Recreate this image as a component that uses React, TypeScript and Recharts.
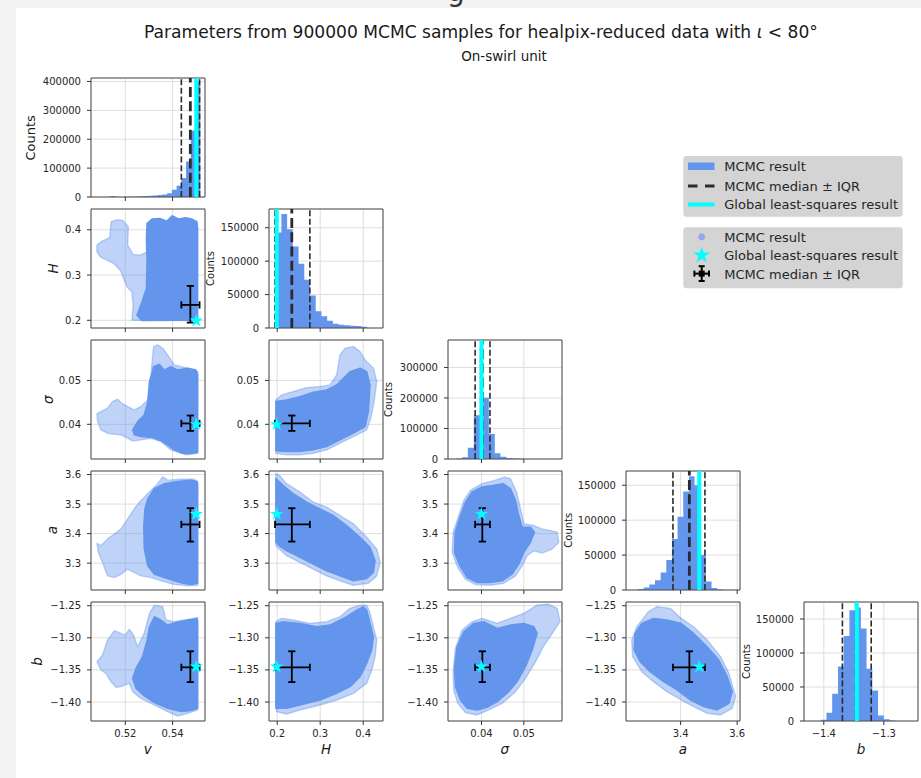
import React from 'react';
import {
  ScatterChart, ComposedChart, Scatter, Area, XAxis, YAxis, CartesianGrid,
  ReferenceLine, ReferenceArea, Symbols,
} from 'recharts';

const FONT = "'DejaVu Sans', sans-serif";
const BLUE = '#6495ED';
const CYAN = '#00FFFF';
const DASH = '#2b2b2b';
const GRID = '#dedede';
const FRAME = '#4d4d4d';
const TEXT = '#262626';

// ---------- summary values: [lower, median, upper] and global least-squares ----------
const vIqr = [0.5437, 0.5475, 0.5514]; const vGls = 0.5500;
const hIqr = [0.195, 0.234, 0.276]; const hGls = 0.199;
const sIqr = [0.0385, 0.0402, 0.0420]; const sGls = 0.0400;
const aIqr = [3.373, 3.431, 3.486]; const aGls = 3.466;
const bIqr = [-1.369, -1.346, -1.321]; const bGls = -1.345;

// ---------- axis ranges and ticks ----------
const vRange = [0.5055, 0.5537]; const vTicks = [0.52, 0.54];
const hRangeX = [0.181, 0.446]; const hRangeY = [0.183, 0.446]; const hTicks = [0.2, 0.3, 0.4];
const sRangeX = [0.0321, 0.0590]; const sRangeY = [0.0321, 0.0592]; const sTicks = [0.04, 0.05];
const aRangeX = [3.207, 3.610]; const aRangeY = [3.209, 3.612];
const aTicksX = [3.4, 3.6]; const aTicksY = [3.3, 3.4, 3.5, 3.6];
const bRangeX = [-1.433, -1.243]; const bRangeY = [-1.4296, -1.2442];
const bTicksX = [-1.4, -1.3]; const bTicksY = [-1.40, -1.35, -1.30, -1.25];

// ---------- histograms (bin edges, counts) ----------
const vHistEdges = [0.5137, 0.5157, 0.5177, 0.5197, 0.5217, 0.5237, 0.5257, 0.5277, 0.5297, 0.5317, 0.5337, 0.5357, 0.5377, 0.5397, 0.5417, 0.5437, 0.5457, 0.5477, 0.5497, 0.5517];
const vHistCounts = [3500, 600, 400, 500, 800, 1500, 2500, 3200, 4000, 5000, 6500, 8500, 13000, 25000, 39000, 66000, 123000, 230000, 400000];
const hHistEdges = [0.1965, 0.2098, 0.2231, 0.2364, 0.2497, 0.2630, 0.2763, 0.2896, 0.3029, 0.3162, 0.3295, 0.3428, 0.3561, 0.3694, 0.3827, 0.3960, 0.4093];
const hHistCounts = [142800, 170600, 147800, 121900, 96000, 72100, 48800, 24900, 17400, 10900, 6500, 5000, 4000, 3500, 3000, 2000];
const sHistEdges = [0.03403, 0.03545, 0.03678, 0.03819, 0.03961, 0.04031, 0.04173, 0.04314, 0.04447, 0.04589, 0.0473, 0.04871, 0.05013];
const sHistCounts = [2000, 5400, 37000, 143000, 371000, 201000, 82000, 19000, 7600, 3300, 2000, 800];
const aHistEdges = [3.2494, 3.2694, 3.2894, 3.3094, 3.3294, 3.3494, 3.3694, 3.3894, 3.4094, 3.4294, 3.4494, 3.4694, 3.4894, 3.5094, 3.5294, 3.5494];
const aHistCounts = [1500, 3500, 8000, 14000, 25000, 43000, 73000, 105000, 141000, 163000, 150000, 50000, 12000, 3000, 800];
const bHistEdges = [-1.4051, -1.3955, -1.3860, -1.3764, -1.3669, -1.3573, -1.3478, -1.3382, -1.3287, -1.3191, -1.3096, -1.3000, -1.2904, -1.2809];
const bHistCounts = [2000, 12000, 40000, 80000, 125000, 163000, 167000, 136000, 77000, 45000, 8000, 2500, 800];

const vCountTicks = [0, 100000, 200000, 300000, 400000];
const hCountTicks = [0, 50000, 100000, 150000];
const sCountTicks = [0, 100000, 200000, 300000];
const aCountTicks = [0, 50000, 100000, 150000];
const bCountTicks = [0, 50000, 100000, 150000];

// ---------- sample clouds: outlines of dense core and sparse halo, [x, y] ----------
const hvSparse = [[0.5080,0.3662],[0.5102,0.3751],[0.5134,0.3825],[0.5140,0.4179],[0.5165,0.4224],[0.5190,0.4209],[0.5213,0.4068],[0.5210,0.3662],[0.5233,0.3455],[0.5263,0.3441],[0.5292,0.3515],[0.5298,0.2001],[0.5228,0.2001],[0.5233,0.2333],[0.5228,0.2628],[0.5207,0.2739],[0.5193,0.2924],[0.5179,0.3108],[0.5151,0.3256],[0.5122,0.3330],[0.5094,0.3404],[0.5080,0.3515]];
const hvDense = [[0.5292,0.4142],[0.5313,0.4238],[0.5345,0.4253],[0.5376,0.4194],[0.5398,0.4312],[0.5426,0.4238],[0.5454,0.4268],[0.5482,0.4238],[0.5503,0.4179],[0.5506,0.4032],[0.5506,0.2001],[0.5270,0.1994],[0.5249,0.2112],[0.5270,0.2407],[0.5289,0.2702],[0.5292,0.3293],[0.5289,0.3810]];

const svSparse = [[0.5080,0.04237],[0.5097,0.04290],[0.5125,0.04366],[0.5146,0.04518],[0.5168,0.04571],[0.5185,0.04480],[0.5210,0.04404],[0.5238,0.04328],[0.5266,0.04404],[0.5295,0.04556],[0.5309,0.04973],[0.5311,0.05277],[0.5316,0.05580],[0.5320,0.05770],[0.5337,0.05808],[0.5358,0.05732],[0.5379,0.05580],[0.5407,0.05353],[0.5464,0.05277],[0.5506,0.05201],[0.5506,0.03341],[0.5457,0.03303],[0.5393,0.03417],[0.5351,0.03607],[0.5309,0.03683],[0.5266,0.03645],[0.5231,0.03622],[0.5210,0.03683],[0.5182,0.03759],[0.5154,0.03774],[0.5125,0.03797],[0.5097,0.03873],[0.5083,0.04062]];
const svDense = [[0.5295,0.04518],[0.5302,0.04973],[0.5320,0.05315],[0.5344,0.05368],[0.5365,0.05239],[0.5393,0.05315],[0.5421,0.05239],[0.5464,0.05277],[0.5499,0.05239],[0.5506,0.05125],[0.5506,0.03364],[0.5478,0.03334],[0.5443,0.03341],[0.5407,0.03417],[0.5379,0.03531],[0.5351,0.03622],[0.5316,0.03698],[0.5266,0.03721],[0.5238,0.03759],[0.5231,0.03873],[0.5252,0.04062],[0.5280,0.04214]];

const shSparse = [[0.1969,0.04556],[0.2101,0.04669],[0.2373,0.04745],[0.2684,0.04836],[0.2995,0.04859],[0.3228,0.04897],[0.3383,0.05125],[0.3461,0.0558],[0.3577,0.05732],[0.3772,0.0577],[0.3927,0.05656],[0.4044,0.05466],[0.4238,0.05277],[0.4315,0.04973],[0.4253,0.04518],[0.4176,0.04138],[0.4082,0.03873],[0.3772,0.03721],[0.3461,0.03569],[0.3150,0.03417],[0.2839,0.03341],[0.2528,0.03303],[0.2218,0.03303],[0.1969,0.03341]];
const shDense = [[0.1969,0.04518],[0.2218,0.04556],[0.2528,0.04631],[0.2839,0.0473],[0.3150,0.04783],[0.3383,0.04897],[0.3538,0.05049],[0.3694,0.05201],[0.3927,0.05277],[0.4082,0.05201],[0.4160,0.04897],[0.4121,0.0429],[0.4044,0.03948],[0.3772,0.03797],[0.3461,0.03645],[0.3150,0.03493],[0.2839,0.03417],[0.2528,0.03379],[0.2218,0.03379],[0.1969,0.03394]];

const avSparse = [[0.5080,3.367],[0.5097,3.359],[0.5125,3.382],[0.5154,3.399],[0.5182,3.416],[0.5210,3.450],[0.5238,3.484],[0.5266,3.512],[0.5302,3.541],[0.5337,3.569],[0.5358,3.592],[0.5379,3.581],[0.5436,3.584],[0.5492,3.584],[0.5506,3.575],[0.5506,3.225],[0.5464,3.223],[0.5407,3.228],[0.5351,3.240],[0.5309,3.251],[0.5266,3.257],[0.5238,3.268],[0.5210,3.280],[0.5182,3.262],[0.5154,3.251],[0.5125,3.257],[0.5104,3.302],[0.5086,3.336]];
const avDense = [[0.5295,3.518],[0.5323,3.552],[0.5365,3.569],[0.5421,3.577],[0.5478,3.581],[0.5503,3.577],[0.5506,3.564],[0.5506,3.232],[0.5478,3.227],[0.5443,3.232],[0.5407,3.240],[0.5365,3.251],[0.5323,3.262],[0.5295,3.291],[0.5280,3.348],[0.5278,3.427],[0.5283,3.484]];

const ahSparse = [[0.1969,3.6034],[0.2047,3.5977],[0.2218,3.5693],[0.2528,3.5409],[0.2839,3.5068],[0.3150,3.4898],[0.3461,3.4614],[0.3772,3.4330],[0.4082,3.3875],[0.4315,3.3477],[0.4393,3.3023],[0.4315,3.2568],[0.4121,3.2318],[0.3772,3.2250],[0.3461,3.2398],[0.3150,3.2568],[0.2839,3.2795],[0.2528,3.3023],[0.2218,3.3250],[0.1969,3.3591]];
const ahDense = [[0.1969,3.5864],[0.2140,3.5636],[0.2373,3.5352],[0.2684,3.5068],[0.2995,3.4841],[0.3305,3.4614],[0.3616,3.4273],[0.3927,3.3875],[0.4160,3.3534],[0.4277,3.3080],[0.4238,3.2682],[0.4082,3.2477],[0.3772,3.2398],[0.3461,3.2568],[0.3150,3.2739],[0.2839,3.2966],[0.2528,3.3193],[0.2218,3.3420],[0.2062,3.3568],[0.1969,3.3705]];

const asSparse = [[0.03465,3.4614],[0.03583,3.5125],[0.0374,3.5466],[0.04016,3.5693],[0.0433,3.5807],[0.04543,3.5920],[0.04685,3.5864],[0.04826,3.5409],[0.04921,3.4841],[0.05,3.4330],[0.05236,3.4273],[0.05432,3.4159],[0.05629,3.4102],[0.05786,3.4045],[0.05826,3.3705],[0.05668,3.3477],[0.05432,3.3341],[0.05236,3.3420],[0.05078,3.3250],[0.0496,3.2909],[0.04803,3.2568],[0.04527,3.2318],[0.04212,3.2250],[0.03858,3.2273],[0.03622,3.2455],[0.03441,3.2852],[0.03307,3.3364],[0.03331,3.4045]];
const asDense = [[0.03504,3.4614],[0.03622,3.5068],[0.0378,3.5409],[0.04016,3.5580],[0.04291,3.5636],[0.04512,3.5693],[0.04685,3.5523],[0.04803,3.5125],[0.04881,3.4614],[0.0496,3.4216],[0.05157,3.4216],[0.05251,3.4045],[0.05157,3.3705],[0.05,3.3364],[0.04881,3.2966],[0.04724,3.2625],[0.04488,3.2398],[0.04212,3.2341],[0.03898,3.2341],[0.03662,3.2511],[0.03488,3.2909],[0.03363,3.3364],[0.03378,3.4045]];

const bvSparse = [[0.5080,-1.3372],[0.5104,-1.3268],[0.5125,-1.3035],[0.5154,-1.2889],[0.5182,-1.2931],[0.5199,-1.2957],[0.5217,-1.2868],[0.5235,-1.2957],[0.5252,-1.3138],[0.5280,-1.2931],[0.5302,-1.2619],[0.5323,-1.2490],[0.5358,-1.2516],[0.5372,-1.2723],[0.5407,-1.2749],[0.5464,-1.2713],[0.5506,-1.2682],[0.5506,-1.4124],[0.5464,-1.4176],[0.5421,-1.4218],[0.5379,-1.4150],[0.5323,-1.4047],[0.5266,-1.3943],[0.5231,-1.3839],[0.5217,-1.3709],[0.5182,-1.3761],[0.5161,-1.3772],[0.5139,-1.3683],[0.5118,-1.3554],[0.5097,-1.3502]];
const bvDense = [[0.5302,-1.2827],[0.5323,-1.2671],[0.5351,-1.2723],[0.5379,-1.2801],[0.5421,-1.2754],[0.5464,-1.2723],[0.5503,-1.2702],[0.5506,-1.2749],[0.5506,-1.4099],[0.5478,-1.4135],[0.5436,-1.4150],[0.5379,-1.4099],[0.5323,-1.4010],[0.5280,-1.3906],[0.5245,-1.3787],[0.5231,-1.3631],[0.5245,-1.3476],[0.5273,-1.3294],[0.5292,-1.3035]];

const bhSparse = [[0.1969,-1.2749],[0.2101,-1.2697],[0.2373,-1.2723],[0.2761,-1.2775],[0.3150,-1.2749],[0.3461,-1.2671],[0.3694,-1.2541],[0.3927,-1.2490],[0.4082,-1.2490],[0.4160,-1.2619],[0.4315,-1.3035],[0.4277,-1.3294],[0.4199,-1.3502],[0.4082,-1.3709],[0.3772,-1.3865],[0.3383,-1.3969],[0.2995,-1.4047],[0.2528,-1.4124],[0.2218,-1.4187],[0.1984,-1.4150]];
const bhDense = [[0.1969,-1.2775],[0.2140,-1.2749],[0.2528,-1.2775],[0.2917,-1.2827],[0.3228,-1.2801],[0.3616,-1.2671],[0.3849,-1.2567],[0.4005,-1.2516],[0.4082,-1.2567],[0.4160,-1.2775],[0.4238,-1.2983],[0.4199,-1.3190],[0.4082,-1.3398],[0.3927,-1.3605],[0.3694,-1.3761],[0.3383,-1.3865],[0.2995,-1.3969],[0.2528,-1.4047],[0.2218,-1.4099],[0.1969,-1.4099]];

const bsSparse = [[0.0333,-1.3554],[0.03385,-1.3164],[0.03543,-1.2879],[0.03779,-1.2749],[0.04016,-1.2697],[0.0437,-1.2775],[0.04686,-1.2697],[0.05001,-1.2619],[0.05316,-1.2490],[0.05568,-1.2474],[0.05789,-1.2541],[0.05852,-1.2749],[0.05671,-1.2931],[0.05458,-1.3138],[0.05276,-1.3372],[0.0504,-1.3631],[0.04804,-1.3839],[0.04489,-1.4021],[0.04173,-1.4124],[0.03898,-1.4202],[0.03622,-1.4166],[0.0344,-1.4021],[0.03346,-1.3813]];
const bsDense = [[0.03362,-1.3450],[0.03425,-1.3138],[0.03582,-1.2905],[0.03819,-1.2775],[0.04055,-1.2749],[0.0437,-1.2853],[0.04686,-1.2801],[0.05001,-1.2775],[0.05237,-1.2827],[0.05316,-1.2931],[0.05198,-1.3190],[0.0504,-1.3450],[0.04843,-1.3683],[0.04607,-1.3865],[0.0437,-1.3995],[0.04134,-1.4083],[0.03898,-1.4124],[0.03661,-1.4099],[0.03504,-1.3969],[0.03385,-1.3761]];

const baSparse = [[3.2272,-1.3035],[3.2449,-1.2827],[3.2864,-1.2593],[3.316,-1.2516],[3.3635,-1.2541],[3.402,-1.2697],[3.4464,-1.2827],[3.4938,-1.3035],[3.5413,-1.3294],[3.5709,-1.3554],[3.5946,-1.3917],[3.5827,-1.4099],[3.5413,-1.4202],[3.4938,-1.4176],[3.4464,-1.4073],[3.402,-1.3969],[3.3516,-1.3839],[3.3042,-1.3683],[3.2627,-1.3528],[3.2307,-1.3294]];
const baDense = [[3.239,-1.2931],[3.2627,-1.2775],[3.3042,-1.2697],[3.3516,-1.2723],[3.402,-1.2775],[3.4464,-1.2931],[3.4938,-1.3138],[3.5353,-1.3346],[3.565,-1.3605],[3.5827,-1.3839],[3.5709,-1.4021],[3.5294,-1.4124],[3.482,-1.4073],[3.4346,-1.3969],[3.3872,-1.3813],[3.3398,-1.3683],[3.2923,-1.3528],[3.2568,-1.3372],[3.2354,-1.3190]];

// ---------- layout ----------
const COL_X = [90.7, 269, 447.7, 626, 804];
const ROW_Y = [78.3, 209, 340.1, 470.7, 602];
const BOX_W = 114;
const BOX_H = 119;
const L = 58, T = 6, R = 8, B = 24;

const fmt = (d: number) => (t: number) => (t < 0 ? '\u2212' : '') + Math.abs(t).toFixed(d);
const blank = () => '';

type AxisDef = { domain: number[]; ticks: number[]; f: (t: number) => string };
const xDefs: AxisDef[] = [
  { domain: vRange, ticks: vTicks, f: fmt(2) },
  { domain: hRangeX, ticks: hTicks, f: fmt(1) },
  { domain: sRangeX, ticks: sTicks, f: fmt(2) },
  { domain: aRangeX, ticks: aTicksX, f: fmt(1) },
  { domain: bRangeX, ticks: bTicksX, f: fmt(1) },
];
const yDefs: (AxisDef | null)[] = [
  null,
  { domain: hRangeY, ticks: hTicks, f: fmt(1) },
  { domain: sRangeY, ticks: sTicks, f: fmt(2) },
  { domain: aRangeY, ticks: aTicksY, f: fmt(1) },
  { domain: bRangeY, ticks: bTicksY, f: fmt(2) },
];
const iqrs = [vIqr, hIqr, sIqr, aIqr, bIqr];
const glsVals = [vGls, hGls, sGls, aGls, bGls];

const scatterPanels = [
  { r: 1, c: 0, dense: hvDense, sparse: hvSparse },
  { r: 2, c: 0, dense: svDense, sparse: svSparse },
  { r: 2, c: 1, dense: shDense, sparse: shSparse },
  { r: 3, c: 0, dense: avDense, sparse: avSparse },
  { r: 3, c: 1, dense: ahDense, sparse: ahSparse },
  { r: 3, c: 2, dense: asDense, sparse: asSparse },
  { r: 4, c: 0, dense: bvDense, sparse: bvSparse },
  { r: 4, c: 1, dense: bhDense, sparse: bhSparse },
  { r: 4, c: 2, dense: bsDense, sparse: bsSparse },
  { r: 4, c: 3, dense: baDense, sparse: baSparse },
];
const histPanels = [
  { i: 0, edges: vHistEdges, counts: vHistCounts, yMax: 412000, yTicks: vCountTicks },
  { i: 1, edges: hHistEdges, counts: hHistCounts, yMax: 178000, yTicks: hCountTicks },
  { i: 2, edges: sHistEdges, counts: sHistCounts, yMax: 390000, yTicks: sCountTicks },
  { i: 3, edges: aHistEdges, counts: aHistCounts, yMax: 170400, yTicks: aCountTicks },
  { i: 4, edges: bHistEdges, counts: bHistCounts, yMax: 175000, yTicks: bCountTicks },
];

const tickStyle = { fontSize: 10, fill: TEXT, fontFamily: FONT };

function makeX(def: AxisDef, show: boolean) {
  return (
    <XAxis type="number" dataKey="x" domain={def.domain} ticks={def.ticks} allowDataOverflow interval={0}
      height={B} tickSize={4} tickMargin={5} axisLine={false} tickLine={{ stroke: '#333' }}
      tick={tickStyle} tickFormatter={show ? def.f : blank} />
  );
}
function makeY(domain: number[], ticks: number[], f: (t: number) => string) {
  return (
    <YAxis type="number" dataKey="y" domain={domain} ticks={ticks} allowDataOverflow interval={0}
      width={L} tickSize={4} tickMargin={6} axisLine={false} tickLine={{ stroke: '#333' }}
      tick={tickStyle} tickFormatter={f} />
  );
}

const toPts = (arr: number[][]) => arr.map(([x, y]) => ({ x, y }));
const noShape = () => <g />;
const polygonLine = (opacity: number) => (p: any) => {
  const pts = (p && p.points) || [];
  if (!pts.length) return <g />;
  const d = 'M' + pts.map((q: any) => `${q.x},${q.y}`).join('L') + 'Z';
  return <path d={d} fill={BLUE} fillOpacity={opacity} stroke={BLUE} strokeOpacity={opacity} strokeWidth={1.4} strokeLinejoin="round" />;
};
const barLine = (p: any) => {
  const pts = (p && p.points) || [];
  if (pts.length < 2) return <g />;
  return <line x1={pts[0].x} y1={pts[0].y} x2={pts[1].x} y2={pts[1].y} stroke="#000" strokeWidth={1.8} />;
};
// error-bar caps: 'v' = vertical cap (ends of horizontal bar), 'h' = horizontal cap
const capShape = (p: any) => {
  const o = p && p.payload ? p.payload.o : 'v';
  const c = 3.6;
  return o === 'v'
    ? <line x1={p.cx} x2={p.cx} y1={p.cy - c} y2={p.cy + c} stroke="#000" strokeWidth={1.8} />
    : <line x1={p.cx - c} x2={p.cx + c} y1={p.cy} y2={p.cy} stroke="#000" strokeWidth={1.8} />;
};
const starShape = (size: number) => (p: any) => <Symbols cx={p.cx} cy={p.cy} type="star" size={size} fill={CYAN} />;

function ScatterPanel({ r, c, dense, sparse }: any) {
  const xd = xDefs[c];
  const yd = yDefs[r] as AxisDef;
  const xi = iqrs[c], yi = iqrs[r];
  const hBar = [{ x: xi[0], y: yi[1], o: 'v' }, { x: xi[2], y: yi[1], o: 'v' }];
  const vBar = [{ x: xi[1], y: yi[0], o: 'h' }, { x: xi[1], y: yi[2], o: 'h' }];
  const star = [{ x: glsVals[c], y: glsVals[r] }];
  return (
    <div style={{ position: 'absolute', left: COL_X[c] - L, top: ROW_Y[r] - T }}>
      <ScatterChart width={BOX_W + L + R} height={BOX_H + T + B} margin={{ top: T, right: R, bottom: 0, left: 0 }}>
        <CartesianGrid stroke={GRID} />
        {makeX(xd, r === 4)}
        {makeY(yd.domain, yd.ticks, yd.f)}
        <Scatter data={toPts(sparse)} shape={noShape} line={polygonLine(0.42)} lineType="joint" isAnimationActive={false} />
        <Scatter data={toPts(dense)} shape={noShape} line={polygonLine(1)} lineType="joint" isAnimationActive={false} />
        <Scatter data={hBar} shape={capShape} line={barLine} lineType="joint" isAnimationActive={false} />
        <Scatter data={vBar} shape={capShape} line={barLine} lineType="joint" isAnimationActive={false} />
        <Scatter data={star} shape={starShape(56)} isAnimationActive={false} />
        <ReferenceArea x1={xd.domain[0]} x2={xd.domain[1]} y1={yd.domain[0]} y2={yd.domain[1]}
          fill="none" fillOpacity={0} stroke={FRAME} strokeWidth={1} ifOverflow="visible" />
      </ScatterChart>
    </div>
  );
}

function HistPanel({ i, edges, counts, yMax, yTicks }: any) {
  const xd = xDefs[i];
  const data = edges.map((e: number, k: number) => ({ x: e, y: k < counts.length ? counts[k] : 0 }));
  const q = iqrs[i];
  return (
    <div style={{ position: 'absolute', left: COL_X[i] - L, top: ROW_Y[i] - T }}>
      <ComposedChart width={BOX_W + L + R} height={BOX_H + T + B} data={data} margin={{ top: T, right: R, bottom: 0, left: 0 }}>
        <CartesianGrid stroke={GRID} />
        {makeX(xd, i === 4)}
        <YAxis type="number" domain={[0, yMax]} ticks={yTicks} allowDataOverflow interval={0}
          width={L} tickSize={4} tickMargin={6} axisLine={false} tickLine={{ stroke: '#333' }}
          tick={tickStyle} tickFormatter={fmt(0)} />
        <Area type="stepAfter" dataKey="y" stroke="none" fill={BLUE} fillOpacity={1} isAnimationActive={false} dot={false} activeDot={false} />
        <ReferenceLine x={q[0]} stroke={DASH} strokeWidth={1.6} strokeDasharray="6 2.6" />
        <ReferenceLine x={q[2]} stroke={DASH} strokeWidth={1.6} strokeDasharray="6 2.6" />
        <ReferenceLine x={q[1]} stroke={DASH} strokeWidth={2.8} strokeDasharray="10 4.3" />
        <ReferenceLine x={glsVals[i]} stroke={CYAN} strokeWidth={4} />
        <ReferenceArea x1={xd.domain[0]} x2={xd.domain[1]} y1={0} y2={yMax}
          fill="none" fillOpacity={0} stroke={FRAME} strokeWidth={1} ifOverflow="visible" />
      </ComposedChart>
    </div>
  );
}

const xLabels = ['v', 'H', 'σ', 'a', 'b'];
const yLabels = [
  { name: 'H', x: 58, r: 1 },
  { name: 'σ', x: 52.5, r: 2 },
  { name: 'a', x: 57.3, r: 3 },
  { name: 'b', x: 42.3, r: 4 },
];
const countLabels = [
  { x: 35, r: 0, size: 13 },
  { x: 214, r: 1, size: 10 },
  { x: 392, r: 2, size: 10 },
  { x: 571.7, r: 3, size: 10 },
  { x: 750, r: 4, size: 10 },
];

export default function App() {
  return (
    <div style={{ position: 'absolute', left: 0, top: 0, width: 921, height: 778, overflow: 'hidden', background: '#f3f3f3', fontFamily: FONT }}>
      <svg width={921} height={10} style={{ position: 'absolute', left: 0, top: 0 }}>
        <text x={447} y={1} fontSize={28} fill="#333" fontFamily={FONT}>g</text>
      </svg>
      <div style={{ position: 'absolute', left: 16, top: 8, width: 905, height: 770, background: '#ffffff' }} />
      {histPanels.map((h) => <HistPanel key={'h' + h.i} {...h} />)}
      {scatterPanels.map((s) => <ScatterPanel key={'s' + s.r + s.c} {...s} />)}
      <svg width={921} height={778} style={{ position: 'absolute', left: 0, top: 0, pointerEvents: 'none' }} fontFamily={FONT}>
        <text x={481} y={37.5} fontSize={17.1} textAnchor="middle" fill="#1a1a1a">
          Parameters from 900000 MCMC samples for healpix-reduced data with <tspan fontStyle="italic">ι</tspan> &lt; 80°
        </text>
        <text x={504} y={60.5} fontSize={13.5} textAnchor="middle" fill="#1a1a1a">On-swirl unit</text>
        {xLabels.map((n, i) => (
          <text key={'xl' + i} x={COL_X[i] + BOX_W / 2} y={754} fontSize={13.5} fontStyle="italic" textAnchor="middle" fill="#1a1a1a">{n}</text>
        ))}
        {yLabels.map((l) => (
          <text key={'yl' + l.r} transform={`translate(${l.x},${ROW_Y[l.r] + BOX_H / 2}) rotate(-90)`} fontSize={13.5} fontStyle="italic" textAnchor="middle" fill="#1a1a1a">{l.name}</text>
        ))}
        {countLabels.map((l) => (
          <text key={'cl' + l.r} transform={`translate(${l.x},${ROW_Y[l.r] + BOX_H / 2}) rotate(-90)`} fontSize={l.size} textAnchor="middle" fill="#1a1a1a">Counts</text>
        ))}
        {/* legend 1 */}
        <rect x={683.3} y={156} width={219.4} height={60.7} rx={3} fill="#d4d4d4" />
        <rect x={688} y={162.5} width={26.5} height={7.5} fill={BLUE} />
        <text x={724.3} y={170.8} fontSize={13} fill={TEXT}>MCMC result</text>
        <line x1={688} x2={714.5} y1={186} y2={186} stroke={DASH} strokeWidth={2.8} strokeDasharray="9.5 7.5" />
        <text x={724.3} y={190.6} fontSize={13} fill={TEXT}>MCMC median ± IQR</text>
        <line x1={688} x2={714.5} y1={204.5} y2={204.5} stroke={CYAN} strokeWidth={4} />
        <text x={724.3} y={209.2} fontSize={13} fill={TEXT}>Global least-squares result</text>
        {/* legend 2 */}
        <rect x={683.3} y={227.3} width={219.4} height={61} rx={3} fill="#d4d4d4" />
        <circle cx={701.7} cy={236.8} r={3.4} fill="#8fa9f0" />
        <text x={724.3} y={241.6} fontSize={13} fill={TEXT}>MCMC result</text>
        <Symbols cx={701.7} cy={255.3} type="star" size={88} fill={CYAN} />
        <text x={724.3} y={260.2} fontSize={13} fill={TEXT}>Global least-squares result</text>
        <g stroke="#000" strokeWidth={2}>
          <line x1={694.4} x2={709} y1={273.6} y2={273.6} />
          <line x1={701.7} x2={701.7} y1={266.2} y2={281} />
          <line x1={694.4} x2={694.4} y1={270.6} y2={276.6} />
          <line x1={709} x2={709} y1={270.6} y2={276.6} />
          <line x1={698.7} x2={704.7} y1={266.2} y2={266.2} />
          <line x1={698.7} x2={704.7} y1={281} y2={281} />
        </g>
        <rect x={698.7} y={270.6} width={6} height={6} fill="#000" />
        <text x={724.3} y={279} fontSize={13} fill={TEXT}>MCMC median ± IQR</text>
      </svg>
    </div>
  );
}
